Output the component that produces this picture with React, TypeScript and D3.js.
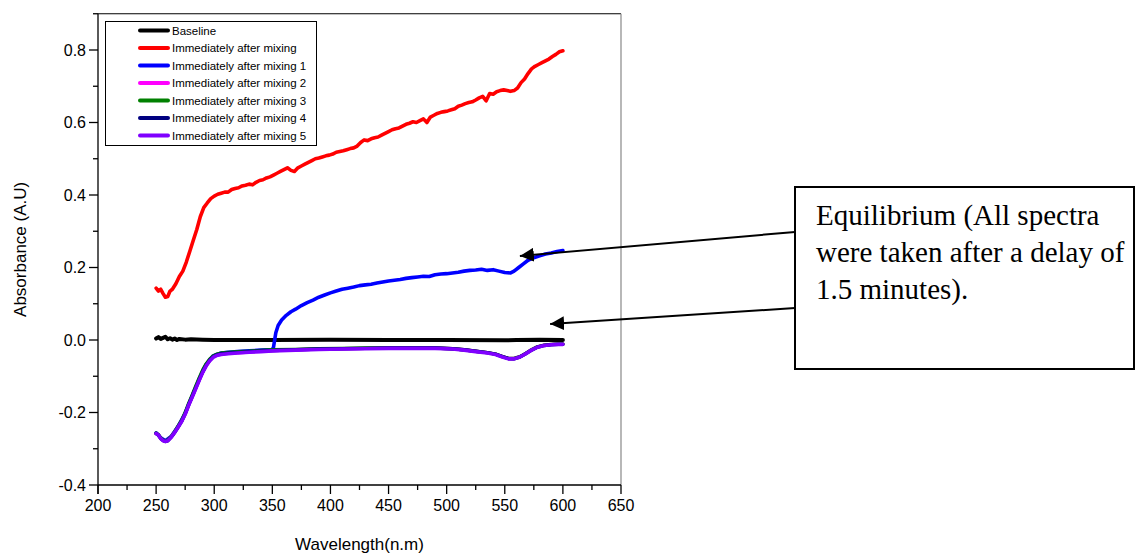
import React from "react";
import * as d3 from "d3";

// ---------- data ----------
const xTickValues = [200, 250, 300, 350, 400, 450, 500, 550, 600, 650];
const yTickValues = [-0.4, -0.2, 0.0, 0.2, 0.4, 0.6, 0.8];
const xMinorValues = [225, 275, 325, 375, 425, 475, 525, 575, 625];
const yMinorValues = [-0.3, -0.1, 0.1, 0.3, 0.5, 0.7, 0.9];

const seriesNames = [
  "Baseline",
  "Immediately after mixing",
  "Immediately after mixing 1",
  "Immediately after mixing 2",
  "Immediately after mixing 3",
  "Immediately after mixing 4",
  "Immediately after mixing 5",
];
const seriesColors = ["#000000", "#ff0000", "#0000ff", "#ff00ff", "#008000", "#000080", "#8000ff"];

const baselineWl = [250, 252, 254, 256, 258, 260, 262, 264, 266, 268, 270, 275, 280, 290, 300, 350, 400, 450, 500, 550, 560, 580, 600];
const baselineAbs = [0.004, 0.008, 0.003, 0.006, 0.009, 0.002, 0.005, 0.001, 0.004, 0.0, 0.003, 0.001, 0.002, 0.001, 0.0, 0.0, 0.001, 0.0, 0.0, -0.001, 0.0, 0.001, 0.0];

const redWl = [250, 252, 254, 256, 258, 260, 262, 264, 267, 270, 273, 276, 279, 282, 285, 288, 291, 294, 297, 300, 303, 306, 309, 312, 315, 318, 321, 324, 327, 330, 333, 336, 339, 342, 345, 348, 351, 354, 357, 360, 363, 366, 369, 372, 375, 378, 381, 384, 387, 390, 393, 396, 399, 402, 405, 408, 411, 414, 417, 420, 423, 426, 429, 432, 435, 438, 441, 444, 447, 450, 453, 456, 459, 462, 465, 468, 471, 474, 477, 480, 483, 486, 489, 492, 495, 498, 501, 504, 507, 510, 513, 516, 519, 522, 525, 528, 531, 534, 537, 540, 543, 546, 549, 552, 555, 558, 561, 564, 567, 570, 573, 576, 579, 582, 585, 588, 591, 594, 597, 600];
const redAbs = [0.143, 0.135, 0.14, 0.128, 0.118, 0.12, 0.135, 0.14, 0.155, 0.175, 0.19, 0.215, 0.245, 0.275, 0.305, 0.34, 0.365, 0.378, 0.39, 0.397, 0.402, 0.405, 0.408, 0.408, 0.415, 0.418, 0.42, 0.425, 0.427, 0.43, 0.428, 0.435, 0.44, 0.442, 0.447, 0.45, 0.455, 0.46, 0.465, 0.47, 0.475, 0.468, 0.465, 0.475, 0.48, 0.485, 0.49, 0.495, 0.5, 0.502, 0.505, 0.508, 0.51, 0.513, 0.518, 0.52, 0.522, 0.525, 0.528, 0.53, 0.535, 0.545, 0.552, 0.55, 0.555, 0.558, 0.56, 0.565, 0.57, 0.575, 0.58, 0.583, 0.585, 0.59, 0.595, 0.598, 0.602, 0.6, 0.605, 0.61, 0.6, 0.615, 0.62, 0.625, 0.628, 0.63, 0.632, 0.635, 0.638, 0.645, 0.648, 0.652, 0.655, 0.657, 0.662, 0.668, 0.672, 0.66, 0.68, 0.678, 0.685, 0.688, 0.69, 0.688, 0.686, 0.688, 0.695, 0.71, 0.72, 0.735, 0.748, 0.755, 0.76, 0.765, 0.77, 0.775, 0.782, 0.788, 0.795, 0.798];

const blueWl = [250, 254, 258, 263, 269, 275, 281, 287, 293, 299, 306, 312, 320, 330, 340, 350, 351, 352, 353, 355, 358, 362, 366, 370, 375, 380, 385, 390, 395, 400, 405, 410, 415, 420, 425, 430, 435, 440, 445, 450, 455, 460, 465, 470, 475, 480, 485, 490, 495, 500, 505, 510, 515, 520, 525, 530, 535, 540, 545, 550, 555, 558, 562, 566, 570, 575, 580, 585, 590, 595, 600];
const blueAbs = [-0.256, -0.27, -0.278, -0.266, -0.238, -0.202, -0.155, -0.108, -0.068, -0.044, -0.036, -0.034, -0.032, -0.03, -0.028, -0.026, -0.02, 0.0, 0.02, 0.04, 0.055, 0.068, 0.078, 0.085, 0.095, 0.103, 0.11, 0.118, 0.124, 0.13, 0.135, 0.14, 0.143, 0.146, 0.15, 0.152, 0.154, 0.157, 0.16, 0.163, 0.165, 0.167, 0.17, 0.172, 0.174, 0.176, 0.175, 0.18, 0.182, 0.183, 0.185, 0.187, 0.19, 0.192, 0.193, 0.195, 0.192, 0.194, 0.19, 0.186, 0.185, 0.19, 0.2, 0.21, 0.22, 0.227, 0.232, 0.237, 0.24, 0.244, 0.247];

const lowWl = [250, 252, 254, 256, 258, 260, 263, 266, 269, 272, 275, 278, 281, 284, 287, 290, 293, 296, 299, 302, 306, 312, 320, 330, 340, 350, 370, 390, 410, 430, 450, 470, 490, 505, 515, 525, 535, 542, 548, 553, 558, 563, 568, 573, 578, 584, 590, 596, 600];
const mix2Abs = [-0.258, -0.262, -0.271, -0.277, -0.279, -0.277, -0.267, -0.254, -0.239, -0.224, -0.204, -0.179, -0.157, -0.134, -0.111, -0.089, -0.071, -0.057, -0.047, -0.042, -0.039, -0.037, -0.035, -0.033, -0.031, -0.029, -0.027, -0.025, -0.024, -0.023, -0.022, -0.022, -0.022, -0.024, -0.027, -0.031, -0.035, -0.039, -0.046, -0.051, -0.051, -0.046, -0.037, -0.027, -0.019, -0.014, -0.012, -0.011, -0.011];
const mix3Abs = [-0.257, -0.261, -0.27, -0.276, -0.278, -0.276, -0.266, -0.253, -0.237, -0.221, -0.2, -0.175, -0.152, -0.128, -0.105, -0.083, -0.066, -0.053, -0.044, -0.039, -0.036, -0.034, -0.032, -0.031, -0.029, -0.027, -0.026, -0.024, -0.023, -0.022, -0.022, -0.022, -0.022, -0.024, -0.027, -0.031, -0.035, -0.039, -0.046, -0.051, -0.051, -0.046, -0.037, -0.027, -0.019, -0.014, -0.012, -0.011, -0.011];
const mix4Abs = [-0.258, -0.262, -0.272, -0.277, -0.28, -0.278, -0.268, -0.255, -0.24, -0.224, -0.203, -0.178, -0.156, -0.133, -0.11, -0.088, -0.07, -0.056, -0.046, -0.041, -0.038, -0.036, -0.034, -0.032, -0.03, -0.029, -0.027, -0.025, -0.024, -0.023, -0.022, -0.022, -0.022, -0.024, -0.027, -0.031, -0.035, -0.039, -0.046, -0.051, -0.052, -0.047, -0.038, -0.028, -0.02, -0.015, -0.013, -0.012, -0.012];
const mix5Abs = [-0.258, -0.262, -0.272, -0.278, -0.28, -0.278, -0.268, -0.255, -0.24, -0.225, -0.205, -0.18, -0.158, -0.135, -0.112, -0.09, -0.072, -0.058, -0.048, -0.043, -0.04, -0.038, -0.036, -0.034, -0.032, -0.03, -0.028, -0.026, -0.025, -0.024, -0.023, -0.023, -0.023, -0.025, -0.028, -0.032, -0.036, -0.04, -0.047, -0.052, -0.052, -0.047, -0.038, -0.028, -0.02, -0.015, -0.013, -0.012, -0.012];

const annotationLines = ["Equilibrium (All spectra", "were taken after a delay of", "1.5 minutes)."];
// arrow tips, in data units (wavelength, absorbance)
const arrowTips: [number, number][] = [[563, 0.232], [589, 0.044]];

export default function App() {
  const W = 1136;
  const H = 555;
  const x = d3.scaleLinear().domain([200, 650]).range([98, 621]);
  const y = d3.scaleLinear().domain([-0.4, 0.9]).range([485, 13.75]);

  const series = [
    { wl: baselineWl, v: baselineAbs, w: 4 },
    { wl: redWl, v: redAbs, w: 3.6 },
    { wl: blueWl, v: blueAbs, w: 3.6 },
    { wl: lowWl, v: mix2Abs, w: 3.4 },
    { wl: lowWl, v: mix3Abs, w: 3.4 },
    { wl: lowWl, v: mix4Abs, w: 3.4 },
    { wl: lowWl, v: mix5Abs, w: 3.6 },
  ];

  const line = d3
    .line<[number, number]>()
    .x((d) => x(d[0]))
    .y((d) => y(d[1]))
    .curve(d3.curveLinear);

  const x0 = x(200);
  const x1 = x(650);
  const yb = y(-0.4);
  const yt = y(0.9);
  const sans = "'Liberation Sans', Arial, sans-serif";
  const serif = "'Liberation Serif', 'Times New Roman', serif";

  const box = { x: 795, y: 187, w: 339, h: 182 };
  const arrowSrc = [232, 308];

  return (
    <svg
      width={W}
      height={H}
      viewBox={`0 0 ${W} ${H}`}
      style={{ position: "absolute", left: 0, top: 0, background: "#fff" }}
    >
      <defs>
        <marker id="ah" viewBox="0 0 10 10" refX="10" refY="5" markerWidth="7" markerHeight="7" orient="auto" markerUnits="strokeWidth">
          <path d="M0,0 L10,5 L0,10 z" fill="#000" />
        </marker>
      </defs>
      <rect x={0} y={0} width={W} height={H} fill="#fff" />

      {/* frame top & right */}
      <line x1={x0} x2={x1} y1={yt} y2={yt} stroke="#000" strokeWidth={1.2} />
      <line x1={x1} x2={x1} y1={yt} y2={yb} stroke="#888" strokeWidth={1.2} />

      {/* series */}
      {series.map((s, i) => (
        <path
          key={i}
          d={line(s.wl.map((w, j) => [w, s.v[j]] as [number, number])) || ""}
          fill="none"
          stroke={seriesColors[i]}
          strokeWidth={s.w}
          strokeLinejoin="round"
          strokeLinecap="round"
        />
      ))}

      {/* axes */}
      <line x1={x0} x2={x0} y1={yt} y2={yb + 9} stroke="#000" strokeWidth={1.3} />
      <line x1={x0} x2={x1} y1={yb} y2={yb} stroke="#000" strokeWidth={1.3} />
      {yTickValues.map((t) => (
        <g key={"yt" + t}>
          <line x1={x0 - 9} x2={x0} y1={y(t)} y2={y(t)} stroke="#000" strokeWidth={1.3} />
          <text x={x0 - 12} y={y(t)} dy="0.35em" textAnchor="end" fontFamily={sans} fontSize={16} fill="#000">
            {d3.format(".1f")(t).replace("−", "-")}
          </text>
        </g>
      ))}
      {yMinorValues.map((t) => (
        <line key={"ym" + t} x1={x0 - 5} x2={x0} y1={y(t)} y2={y(t)} stroke="#000" strokeWidth={1.3} />
      ))}
      {xTickValues.map((t) => (
        <g key={"xt" + t}>
          <line x1={x(t)} x2={x(t)} y1={yb} y2={yb + 9} stroke="#000" strokeWidth={1.3} />
          <text x={x(t)} y={yb + 26} textAnchor="middle" fontFamily={sans} fontSize={16} fill="#000">
            {t}
          </text>
        </g>
      ))}
      {xMinorValues.map((t) => (
        <line key={"xm" + t} x1={x(t)} x2={x(t)} y1={yb} y2={yb + 5} stroke="#000" strokeWidth={1.3} />
      ))}

      <text x={(x0 + x1) / 2} y={550} textAnchor="middle" fontFamily={sans} fontSize={17} fill="#000">
        Wavelength(n.m)
      </text>
      <text
        transform={`translate(26, ${(yt + yb) / 2}) rotate(-90)`}
        textAnchor="middle"
        fontFamily={sans}
        fontSize={17}
        fill="#000"
      >
        Absorbance (A.U)
      </text>

      {/* legend */}
      <rect x={105.5} y={21.5} width={211} height={124} fill="#fff" stroke="#000" strokeWidth={1} />
      {seriesNames.map((n, i) => {
        const ly = 30.5 + i * 17.5;
        return (
          <g key={n}>
            <line x1={140} x2={168} y1={ly} y2={ly} stroke={seriesColors[i]} strokeWidth={4} strokeLinecap="round" />
            <text x={172} y={ly} dy="0.35em" fontFamily={sans} fontSize={11.5} fill="#000">
              {n}
            </text>
          </g>
        );
      })}

      {/* annotation */}
      {arrowTips.map((t, i) => (
        <line
          key={"ar" + i}
          x1={box.x}
          y1={arrowSrc[i]}
          x2={x(t[0])}
          y2={y(t[1])}
          stroke="#000"
          strokeWidth={2}
          markerEnd="url(#ah)"
        />
      ))}
      <rect x={box.x} y={box.y} width={box.w} height={box.h} fill="#fff" stroke="#000" strokeWidth={2} />
      {annotationLines.map((l, i) => (
        <text key={l} x={816} y={225 + i * 37} fontFamily={serif} fontSize={29} fill="#000">
          {l}
        </text>
      ))}
    </svg>
  );
}
